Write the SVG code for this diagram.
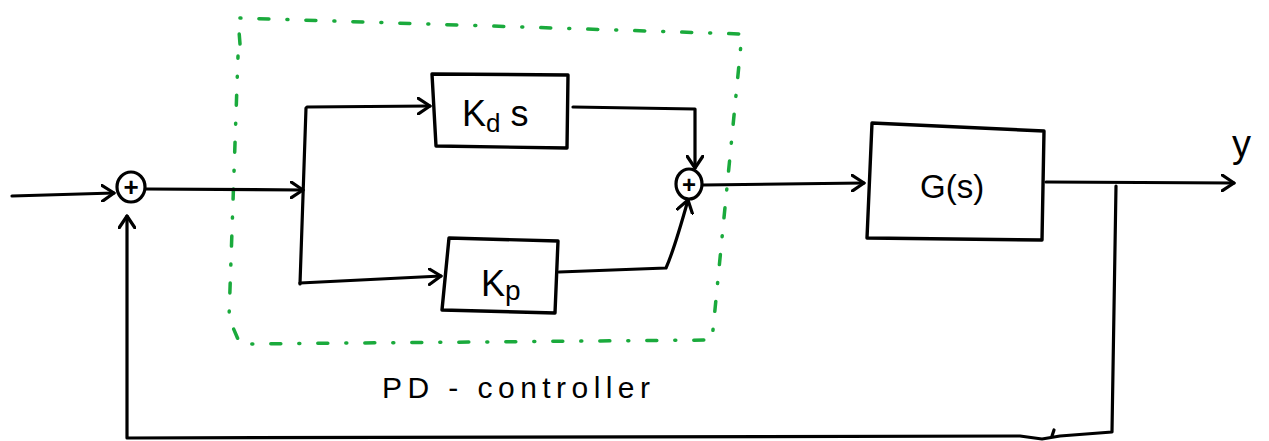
<svg xmlns="http://www.w3.org/2000/svg" width="1269" height="441" viewBox="0 0 1269 441">
<style>
.ln{fill:none;stroke:#000;stroke-width:3.2;stroke-linecap:round;stroke-linejoin:round}
.bx{fill:none;stroke:#000;stroke-width:3.4;stroke-linecap:round;stroke-linejoin:round}
.gr{fill:none;stroke:#1aaa3c;stroke-width:3.5;stroke-linecap:round;stroke-dasharray:10 18 1 18}
.t{font-family:"Liberation Sans",Arial,sans-serif;fill:#000}
</style>
<defs>
<marker id="ah" viewBox="-13 -9 15 18" refX="0" refY="0" markerWidth="15" markerHeight="18" markerUnits="userSpaceOnUse" orient="auto">
<path d="M-12,-8 L0,0 L-12,8" fill="none" stroke="#000" stroke-width="3.2" stroke-linecap="round" stroke-linejoin="round"/>
</marker>
</defs>
<rect width="1269" height="441" fill="#fff"/>
<g id="pd-boundary">
<path class="gr" d="M240,44 L238,18 L742,34 L712,340 L240,344 L229,318 L238,56"/>
<text class="t" x="382" y="398" font-size="30" textLength="268" lengthAdjust="spacing">PD - controller</text>
</g>
<g id="sum1">
<ellipse cx="131" cy="187" rx="14" ry="15" class="ln"/>
<text class="t" x="131" y="196" font-size="26" font-weight="bold" text-anchor="middle">+</text>
</g>
<g id="sum2">
<ellipse cx="689" cy="184" rx="13" ry="15" class="ln"/>
<text class="t" x="689" y="193" font-size="24" font-weight="bold" text-anchor="middle">+</text>
</g>
<g id="kd">
<path class="bx" d="M432,74 L568,75 L567,148 L436,146 Z"/>
<text class="t" x="462" y="126" font-size="36">K<tspan font-size="26" dy="6">d</tspan><tspan dy="-6"> s</tspan></text>
</g>
<g id="kp">
<path class="bx" d="M449,238 L558,241 L555,313 L442,310 Z"/>
<text class="t" x="481" y="296" font-size="36">K<tspan font-size="28" dy="4">p</tspan></text>
</g>
<g id="g">
<path class="bx" d="M872,123 L1044,131 L1042,240 L867,238 Z"/>
<text class="t" x="920" y="198" font-size="33">G(s)</text>
</g>
<g id="out-label">
<text class="t" x="1232" y="157" font-size="38">y</text>
</g>
<g id="connectors">
<path class="ln" d="M12,196 L114,193" marker-end="url(#ah)"/>
<path class="ln" d="M146,189 L303,190" marker-end="url(#ah)"/>
<path class="ln" d="M306,108 L300,284"/>
<path class="ln" d="M307,107 L430,106" marker-end="url(#ah)"/>
<path class="ln" d="M300,283 L441,276" marker-end="url(#ah)"/>
<path class="ln" d="M573,107 L695,109 L695,168" marker-end="url(#ah)"/>
<path class="ln" d="M559,272 L666,268 Q674,250 688,200" marker-end="url(#ah)"/>
<path class="ln" d="M703,185 L864,183" marker-end="url(#ah)"/>
<path class="ln" d="M1046,182 L1234,183" marker-end="url(#ah)"/>
<path class="ln" d="M1116,186 L1112,432 L1060,436 L1042,439 L1020,436 L127,438 L127,216" marker-end="url(#ah)"/>
<path class="ln" d="M1052,436 L1054,430"/>
</g>
</svg>
